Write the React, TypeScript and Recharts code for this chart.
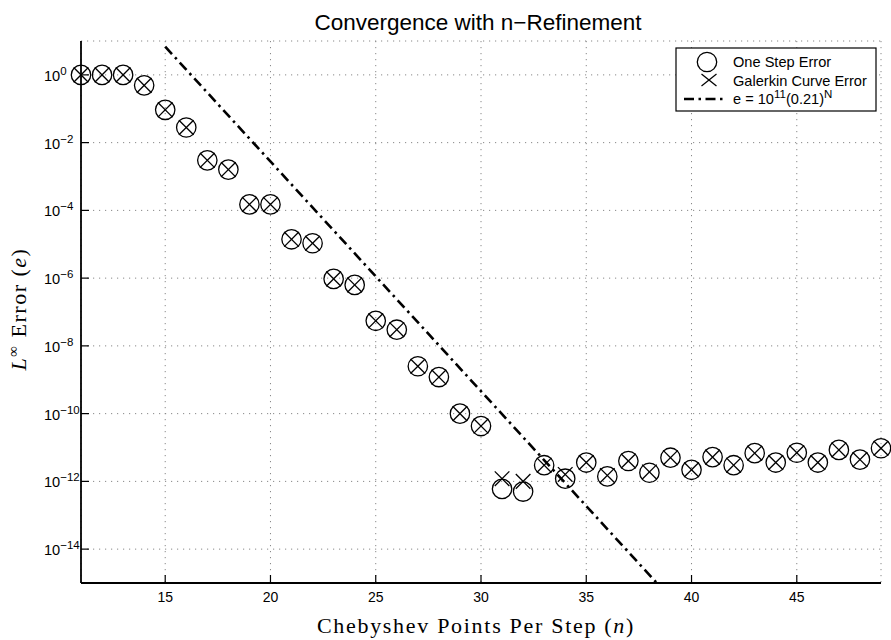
import React from 'react';
import { ComposedChart, Scatter, Line, XAxis, YAxis, CartesianGrid } from 'recharts';

// Chebyshev points per step
const nPoints = [
  11, 12, 13, 14, 15, 16, 17, 18, 19, 20,
  21, 22, 23, 24, 25, 26, 27, 28, 29, 30,
  31, 32, 33, 34, 35, 36, 37, 38, 39, 40,
  41, 42, 43, 44, 45, 46, 47, 48, 49,
];

// (log scale)
const oneStepError = [
  1.0, 1.0, 1.0, 0.49, 0.093, 0.028, 3.0e-3, 1.6e-3, 1.5e-4, 1.5e-4,
  1.4e-5, 1.07e-5, 9.5e-7, 6.3e-7, 5.5e-8, 3.0e-8, 2.5e-9, 1.2e-9, 1.0e-10, 4.3e-11,
  6.0e-13, 5.0e-13, 3.0e-12, 1.2e-12, 3.6e-12, 1.4e-12, 4.0e-12, 1.8e-12, 5.0e-12, 2.2e-12,
  5.2e-12, 3.0e-12, 6.8e-12, 3.6e-12, 7.0e-12, 3.6e-12, 8.5e-12, 4.4e-12, 9.5e-12,
];

const galerkinError = [
  1.0, 1.0, 1.0, 0.49, 0.093, 0.028, 3.0e-3, 1.6e-3, 1.5e-4, 1.5e-4,
  1.4e-5, 1.07e-5, 9.5e-7, 6.3e-7, 5.5e-8, 3.0e-8, 2.5e-9, 1.2e-9, 1.0e-10, 4.3e-11,
  1.2e-12, 1.0e-12, 3.0e-12, 1.6e-12, 3.6e-12, 1.5e-12, 4.0e-12, 1.9e-12, 5.0e-12, 2.2e-12,
  5.2e-12, 3.0e-12, 6.8e-12, 3.6e-12, 7.0e-12, 3.6e-12, 8.5e-12, 4.4e-12, 9.5e-12,
];

// fit line e = 10^11 (0.21)^N, end points as drawn
const fitN = [15, 38.35];
const fitE = [6.8, 1.0e-15];

const xTicks = [15, 20, 25, 30, 35, 40, 45];
const yTicks = [1, 1e-2, 1e-4, 1e-6, 1e-8, 1e-10, 1e-12, 1e-14];

const oneStepData = nPoints.map((n, i) => ({ n, e: oneStepError[i] }));
const galerkinData = nPoints.map((n, i) => ({ n, e: galerkinError[i] }));
const fitData = fitN.map((n, i) => ({ n, e: fitE[i] }));

const SANS = '"Liberation Sans", Arial, sans-serif';
const SERIF = '"Liberation Serif", "Times New Roman", serif';
const TICK_LEN = 8;

const expLabel = (v: number) => {
  const p = Math.round(Math.log10(v));
  return p < 0 ? '\u2212' + Math.abs(p) : String(p);
};

const LeftTick = (props: any) => {
  const { x, y, payload } = props;
  return (
    <g>
      <line x1={x} y1={y} x2={x + TICK_LEN} y2={y} stroke="#000" strokeWidth={1.2} />
      <text x={44} y={y + 6} fontFamily={SANS} fontSize={14.6} fill="#000">
        10
        <tspan dy={-6} fontSize={11.5}>{expLabel(payload.value)}</tspan>
      </text>
    </g>
  );
};

const RightTick = (props: any) => {
  const { x, y } = props;
  return <line x1={x} y1={y} x2={x - TICK_LEN} y2={y} stroke="#000" strokeWidth={1.2} />;
};

const BottomTick = (props: any) => {
  const { x, y, payload } = props;
  return (
    <g>
      <line x1={x} y1={y} x2={x} y2={y - TICK_LEN} stroke="#000" strokeWidth={1.2} />
      <text x={x} y={y + 19} textAnchor="middle" fontFamily={SANS} fontSize={14} fill="#000">
        {payload.value}
      </text>
    </g>
  );
};

const TopTick = (props: any) => {
  const { x, y } = props;
  return <line x1={x} y1={y} x2={x} y2={y + TICK_LEN} stroke="#000" strokeWidth={1.2} />;
};

const CircleMark = (props: any) => (
  <circle cx={props.cx} cy={props.cy} r={9.7} fill="none" stroke="#000" strokeWidth={1.3} />
);

const CrossMark = (props: any) => {
  const { cx, cy } = props;
  const s = 7.3;
  return (
    <g stroke="#000" strokeWidth={1.3}>
      <line x1={cx - s} y1={cy - s} x2={cx + s} y2={cy + s} />
      <line x1={cx - s} y1={cy + s} x2={cx + s} y2={cy - s} />
    </g>
  );
};

const axisLine = { stroke: '#000', strokeWidth: 1.8 };
const fitDash = '10 4.5 2.5 4.5';

export default function App() {
  return (
    <div style={{ position: 'absolute', left: 0, top: 0, width: 891, height: 640, background: '#fff' }}>
      <ComposedChart width={891} height={640} margin={{ top: 41, right: 10, bottom: 0, left: 0 }}>
        <CartesianGrid stroke="#888" strokeDasharray="1.2 4.8" />
        <XAxis
          dataKey="n"
          type="number"
          domain={[11, 49]}
          ticks={xTicks}
          interval={0}
          height={57}
          tickSize={0}
          tickMargin={0}
          axisLine={axisLine}
          tickLine={false}
          tick={<BottomTick />}
        />
        <XAxis
          xAxisId="top"
          orientation="top"
          type="number"
          domain={[11, 49]}
          ticks={xTicks}
          interval={0}
          height={0}
          tickSize={0}
          tickMargin={0}
          axisLine={axisLine}
          tickLine={false}
          tick={<TopTick />}
        />
        <YAxis
          dataKey="e"
          type="number"
          scale="log"
          domain={[1e-15, 10]}
          ticks={yTicks}
          interval={0}
          width={81}
          tickSize={0}
          tickMargin={0}
          axisLine={axisLine}
          tickLine={false}
          tick={<LeftTick />}
        />
        <YAxis
          yAxisId="right"
          orientation="right"
          type="number"
          scale="log"
          domain={[1e-15, 10]}
          ticks={yTicks}
          interval={0}
          width={0}
          tickSize={0}
          tickMargin={0}
          axisLine={axisLine}
          tickLine={false}
          tick={<RightTick />}
        />
        <Line
          data={fitData}
          dataKey="e"
          stroke="#000"
          strokeWidth={2.6}
          strokeDasharray={fitDash}
          dot={false}
          activeDot={false}
          isAnimationActive={false}
        />
        <Scatter name="One Step Error" data={oneStepData} dataKey="e" shape={<CircleMark />} isAnimationActive={false} />
        <Scatter name="Galerkin Curve Error" data={galerkinData} dataKey="e" shape={<CrossMark />} isAnimationActive={false} />
      </ComposedChart>

      <svg width={891} height={640} style={{ position: 'absolute', left: 0, top: 0, pointerEvents: 'none' }}>
        <text x={478} y={30} textAnchor="middle" fontFamily={SANS} fontSize={22.5} fill="#000">
          Convergence with n{'\u2212'}Refinement
        </text>
        <text x={476} y={633} textAnchor="middle" fontFamily={SERIF} fontSize={22} letterSpacing={1.7} fill="#000">
          Chebyshev Points Per Step (<tspan fontStyle="italic">n</tspan>)
        </text>
        <text
          transform="translate(26,309) rotate(-90)"
          textAnchor="middle"
          fontFamily={SERIF}
          fontSize={22}
          letterSpacing={1.5}
          fill="#000"
        >
          <tspan fontStyle="italic">L</tspan>
          <tspan dy={-8} fontSize={15}>{'\u221e'}</tspan>
          <tspan dy={8}> Error (</tspan>
          <tspan fontStyle="italic">e</tspan>
          <tspan>)</tspan>
        </text>

        <g transform="translate(676,48)">
          <rect x={0} y={0} width={200} height={63} fill="#fff" stroke="#000" strokeWidth={1.2} />
          <circle cx={31} cy={14} r={9.7} fill="none" stroke="#000" strokeWidth={1.3} />
          <text x={57} y={19} fontFamily={SANS} fontSize={14.6} fill="#000">One Step Error</text>
          <g stroke="#000" strokeWidth={1.3}>
            <line x1={25.5} y1={26} x2={40.5} y2={38} />
            <line x1={25.5} y1={38} x2={40.5} y2={26} />
          </g>
          <text x={57} y={37.5} fontFamily={SANS} fontSize={14.6} fill="#000">Galerkin Curve Error</text>
          <line x1={8} y1={51} x2={47} y2={51} stroke="#000" strokeWidth={2.6} strokeDasharray={fitDash} />
          <text x={57} y={56} fontFamily={SANS} fontSize={14.6} fill="#000">
            e = 10<tspan dy={-6} fontSize={11.5}>11</tspan>
            <tspan dy={6}>(0.21)</tspan>
            <tspan dy={-6} fontSize={11.5}>N</tspan>
          </text>
        </g>
      </svg>
    </div>
  );
}
